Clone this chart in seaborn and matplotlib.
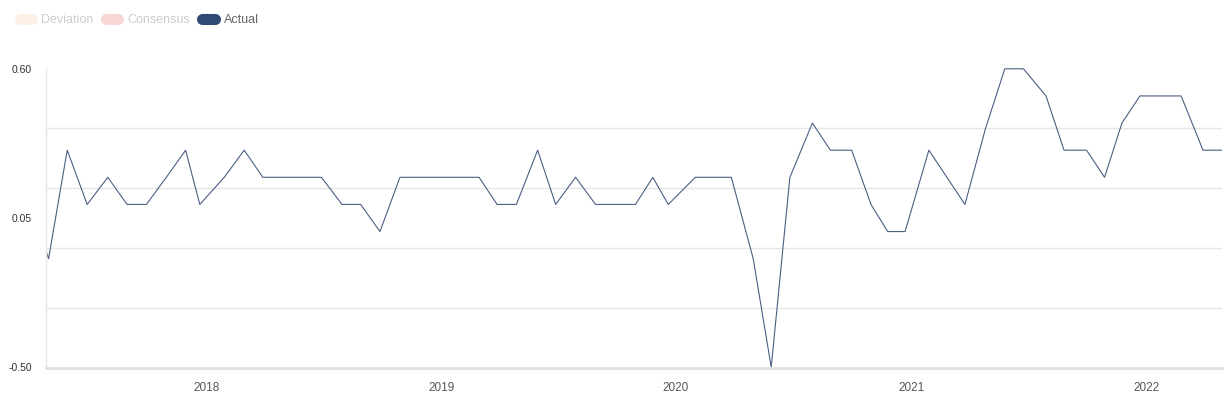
import pandas as pd
import matplotlib
matplotlib.use("Agg")
import matplotlib.pyplot as plt
import matplotlib.dates as mdates
from matplotlib.lines import Line2D
import seaborn as sns

# ── data ──
dates = [
    "2017-04-04", "2017-05-01", "2017-05-30", "2017-06-30", "2017-08-01", "2017-08-31",
    "2017-09-30", "2017-10-31", "2017-11-30", "2017-12-22", "2018-01-29", "2018-03-01",
    "2018-03-30", "2018-05-01", "2018-05-30", "2018-06-29", "2018-07-31", "2018-08-29",
    "2018-09-28", "2018-10-29", "2018-11-29", "2018-12-21", "2019-01-28", "2019-03-01",
    "2019-03-29", "2019-04-28", "2019-05-31", "2019-06-28", "2019-07-29", "2019-08-29",
    "2019-09-26", "2019-10-30", "2019-11-26", "2019-12-20", "2020-01-31", "2020-02-28",
    "2020-03-27", "2020-04-30", "2020-05-28", "2020-06-26", "2020-07-31", "2020-08-28",
    "2020-09-30", "2020-10-30", "2020-11-25", "2020-12-22", "2021-01-28", "2021-02-25",
    "2021-03-25", "2021-04-26", "2021-05-26", "2021-06-24", "2021-07-29", "2021-08-26",
    "2021-09-30", "2021-10-28", "2021-11-24", "2021-12-22", "2022-01-27", "2022-02-24",
    "2022-03-30", "2022-04-28",
]
actual = [
    0.1, -0.1, 0.3, 0.1, 0.2, 0.1,
    0.1, 0.2, 0.3, 0.1, 0.2, 0.3,
    0.2, 0.2, 0.2, 0.2, 0.1, 0.1,
    0.0, 0.2, 0.2, 0.2, 0.2, 0.2,
    0.1, 0.1, 0.3, 0.1, 0.2, 0.1,
    0.1, 0.1, 0.2, 0.1, 0.2, 0.2,
    0.2, -0.1, -0.5, 0.2, 0.4, 0.3,
    0.3, 0.1, 0.0, 0.0, 0.3, 0.2,
    0.1, 0.38, 0.6, 0.6, 0.5, 0.3,
    0.3, 0.2, 0.4, 0.5, 0.5, 0.5,
    0.3, 0.3,
]
y_labels = [0.60, 0.05, -0.50]
y_grid = [0.60, 0.38, 0.16, -0.06, -0.28, -0.50]
years = ["2018", "2019", "2020", "2021", "2022"]
legend_items = ["Deviation", "Consensus", "Actual"]

df = pd.DataFrame({"date": pd.to_datetime(dates), "actual": actual})

sns.set_theme(style="white")
plt.rcParams["font.family"] = ["Liberation Sans", "DejaVu Sans"]

fig = plt.figure(figsize=(12.32, 4.0), dpi=100)
ax = fig.add_axes([46 / 1232, 32 / 400, (1222 - 46) / 1232, 300 / 400])

sns.lineplot(data=df, x="date", y="actual", ax=ax, color="#4a5f82", linewidth=0.8)

ax.set_xlim(pd.Timestamp("2017-04-27"), pd.Timestamp("2022-04-28 12:00"))
ax.set_ylim(-0.503, 0.603)

# y 轴: 刻度标签与网格线位置不同
ax.set_yticks(y_labels)
ax.set_yticklabels([f"{v:.2f}" for v in y_labels])
ax.set_yticks(y_grid, minor=True)
ax.grid(False)
ax.grid(which="minor", axis="y", color="#e6e6e6", linewidth=1)
ax.tick_params(axis="y", which="both", length=0, pad=10, labelsize=7.5, labelcolor="#333333")

ax.set_xticks(pd.to_datetime([y + "-01-01" for y in years]))
ax.xaxis.set_major_formatter(mdates.DateFormatter("%Y"))
ax.tick_params(axis="x", length=5, width=1, color="#e0e0e0", pad=5,
               labelsize=8.5, labelcolor="#555555")

ax.set_xlabel("")
ax.set_ylabel("")
for side in ["top", "right"]:
    ax.spines[side].set_visible(False)
ax.spines["left"].set_color("#e6e6e6")
ax.spines["left"].set_linewidth(1)
ax.spines["bottom"].set_color("#e0e0e0")
ax.spines["bottom"].set_linewidth(2)

# 图例: 圆角色块
handles = [
    Line2D([0], [0], color=c, lw=8, solid_capstyle="round")
    for c in ["#fdf1e6", "#f6d7d6", "#2f4a73"]
]
leg = fig.legend(handles, legend_items, loc="upper left", bbox_to_anchor=(0.008, 0.99),
                 ncol=3, frameon=False, fontsize=9, handlelength=1.0,
                 handletextpad=0.7, columnspacing=1.0, borderaxespad=0.4)
for t, c in zip(leg.get_texts(), ["#cccccc", "#cccccc", "#666666"]):
    t.set_color(c)

plt.savefig("out.png", dpi=100, facecolor="white")
plt.close()
